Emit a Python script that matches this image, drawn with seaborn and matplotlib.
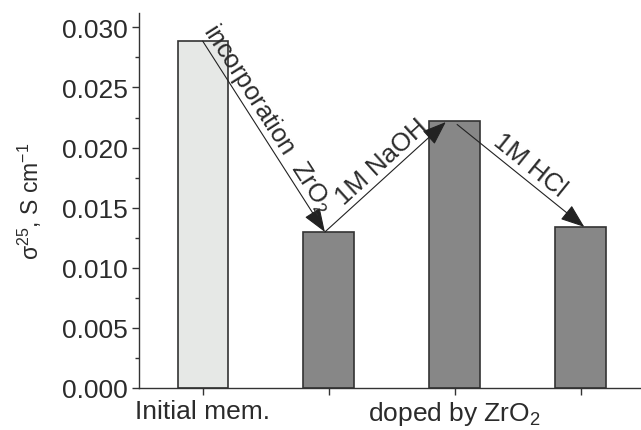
import numpy as np
import pandas as pd
import matplotlib
matplotlib.use("Agg")
import matplotlib.pyplot as plt
import seaborn as sns

# data
stages = ["Initial", "ZrO2", "NaOH", "HCl"]
sigma = [0.02886, 0.01297, 0.02222, 0.01339]
bar_colors = ["#e6e8e6", "#878787", "#878787", "#878787"]
tick_labels = ["Initial mem.", "", "doped by ZrO$_2$", ""]
arrow_labels = ["incorporation  ZrO$_2$", "1M NaOH", "1M HCl"]

sns.set_style("ticks")
plt.rcParams["font.family"] = ["Liberation Sans", "DejaVu Sans"]
plt.rcParams["mathtext.fontset"] = "custom"
plt.rcParams["mathtext.rm"] = "Liberation Sans"
plt.rcParams["mathtext.it"] = "Liberation Sans:italic"
plt.rcParams["mathtext.sf"] = "Liberation Sans"
txt = "#2b2b2b"

df = pd.DataFrame({"stage": stages, "sigma": sigma})

fig = plt.figure(figsize=(6.41, 4.31), dpi=100)
ax = fig.add_axes([0.217, 0.098, 0.783, 0.8695])
sns.barplot(data=df, x="stage", y="sigma", hue="stage", palette=bar_colors,
            dodge=False, legend=False, width=0.4, edgecolor="#333333",
            linewidth=1.2, ax=ax)

ax.set_xlim(-0.505, 3.48)
ax.set_ylim(0, 0.0312)
ax.set_yticks(np.arange(0, 0.0301, 0.005))
ax.set_yticks(np.arange(0.0025, 0.031, 0.005), minor=True)
ax.set_xticks(range(4))
ax.set_xticklabels(tick_labels)
ax.yaxis.set_major_formatter(matplotlib.ticker.FormatStrFormatter("%.3f"))
ax.tick_params(axis="both", which="major", direction="out", length=5,
               width=1, color="#333333", labelsize=19, labelcolor=txt, pad=3)
ax.tick_params(axis="y", which="minor", direction="out", length=3,
               width=1, color="#333333")
ax.set_xlabel("")
ax.set_ylabel("σ$^{25}$, S cm$^{-1}$", fontsize=16.5, color=txt, labelpad=13)
for s in ["top", "right"]:
    ax.spines[s].set_visible(False)
for s in ["left", "bottom"]:
    ax.spines[s].set_color("#333333")
    ax.spines[s].set_linewidth(1.0)

# arrows between bar tops
starts = [(0.0, sigma[0]), (0.97, sigma[1]), (2.02, sigma[2] - 0.0003)]
ends = [(0.97, sigma[1]), (1.93, sigma[2] - 0.0001), (3.03, sigma[3])]
label_pos = [0.44, 0.55, 0.50]
offsets = [10, 10, 10]
fig.canvas.draw()
for (x0, y0), (x1, y1), lab, t, off in zip(starts, ends, arrow_labels, label_pos, offsets):
    ax.annotate("", xy=(x1, y1), xytext=(x0, y0),
                arrowprops=dict(arrowstyle="-|>,head_length=0.75,head_width=0.28",
                                mutation_scale=20, lw=0.8, color="#222222",
                                shrinkA=0, shrinkB=0))
    p0 = ax.transData.transform((x0, y0))
    p1 = ax.transData.transform((x1, y1))
    d = p1 - p0
    ang = np.degrees(np.arctan2(d[1], d[0]))
    u = d / np.hypot(*d)
    n = np.array([-u[1], u[0]])
    xm, ym = x0 + t * (x1 - x0), y0 + t * (y1 - y0)
    ax.annotate(lab, xy=(xm, ym), xytext=(n[0] * off, n[1] * off),
                textcoords="offset points", rotation=ang, rotation_mode="anchor",
                ha="center", va="center", fontsize=18.5, color=txt)

fig.savefig("out.png", dpi=100)
